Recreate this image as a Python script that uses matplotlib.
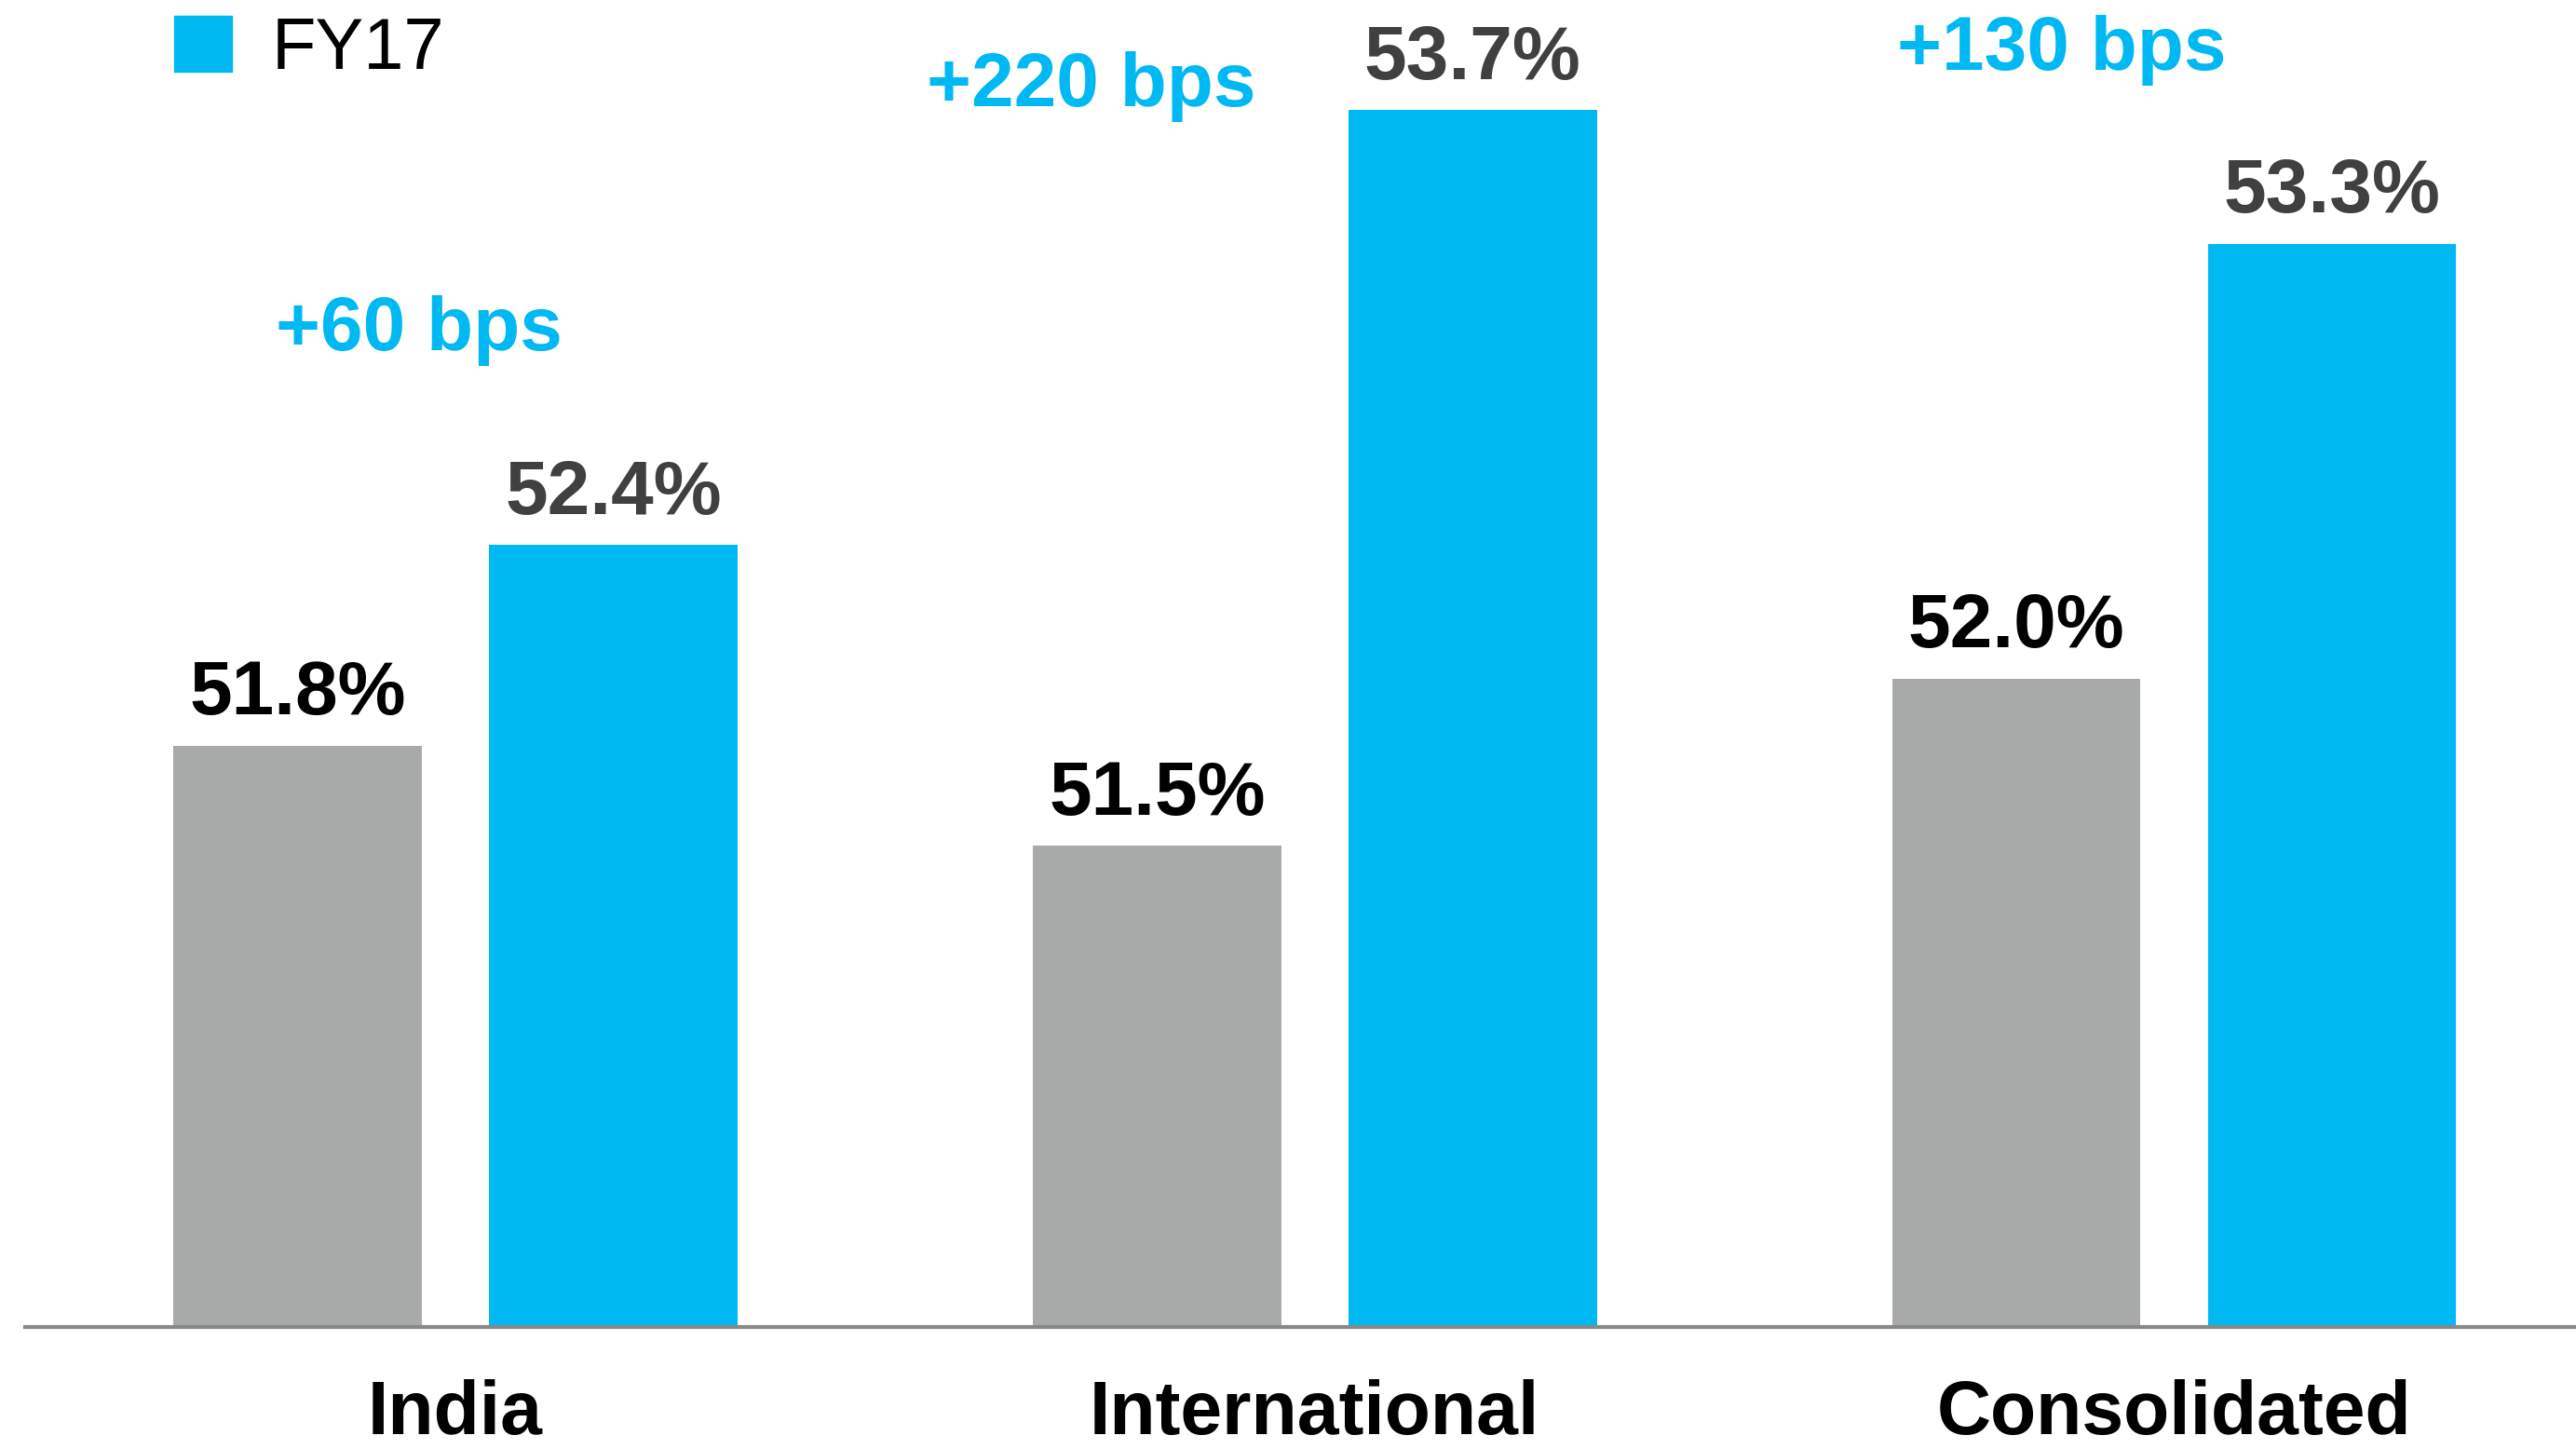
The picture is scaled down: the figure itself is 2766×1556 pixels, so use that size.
import numpy as np
import matplotlib.pyplot as plt
from matplotlib.patches import Patch

categories = ["India", "International", "Consolidated"]
fy16 = [51.8, 51.5, 52.0]
fy17 = [52.4, 53.7, 53.3]
changes = ["+60 bps", "+220 bps", "+130 bps"]
# where the bps notes sit (x offset from group centre, y in % units)
change_dx = [-0.042, -0.26, -0.131]
change_y = [53.04, 53.77, 53.88]

grey = "#A7AAA9"
blue = "#00B9F2"

plt.rcParams['font.family'] = ['Liberation Sans', 'DejaVu Sans']

fig = plt.figure(figsize=(27.66, 15.56), dpi=100)
ax = fig.add_axes([0.0096, 0.0839, 0.9904, 0.9161])

x = np.arange(len(categories))
w = 0.289
off = 0.1836
b1 = ax.bar(x - off, fy16, w, color=grey, label="FY16")
b2 = ax.bar(x + off, fy17, w, color=blue, label="FY17")

for rect, v in zip(b1, fy16):
    ax.annotate(f"{v:.1f}%", (rect.get_x() + rect.get_width() / 2, v),
                xytext=(0, 12), textcoords="offset points",
                ha="center", va="bottom", fontsize=59, fontweight="bold", color="black")
for rect, v in zip(b2, fy17):
    ax.annotate(f"{v:.1f}%", (rect.get_x() + rect.get_width() / 2, v),
                xytext=(0, 12), textcoords="offset points",
                ha="center", va="bottom", fontsize=59, fontweight="bold", color="#404040")

for i, t in enumerate(changes):
    ax.text(x[i] + change_dx[i], change_y[i], t, ha="center", va="center",
            fontsize=59, fontweight="bold", color=blue)

ax.set_xlim(-0.501, 2.4675)
ax.set_ylim(50.06, 54.03)
ax.set_xticks(x)
ax.set_xticklabels(categories, fontsize=58, fontweight="bold")
ax.tick_params(axis="x", length=0, pad=40)
ax.set_yticks([])
for s in ["top", "right", "left"]:
    ax.spines[s].set_visible(False)
ax.spines["bottom"].set_color("#888888")
ax.spines["bottom"].set_linewidth(3)

ax.legend(handles=[Patch(color=blue)], labels=["FY17"], loc="upper left",
          bbox_to_anchor=(0.0586, 0.988), frameon=False, fontsize=56,
          borderpad=0, borderaxespad=0,
          handlelength=0.8, handleheight=0.8, handletextpad=0.55)

fig.savefig("out.png", dpi=100)
